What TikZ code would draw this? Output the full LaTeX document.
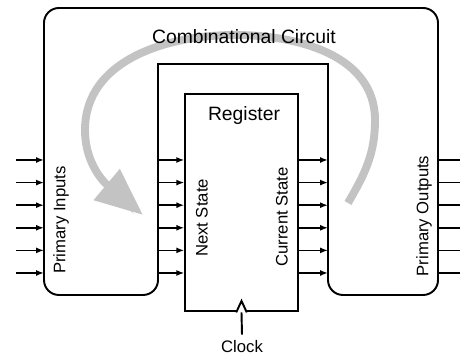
\documentclass[tikz,border=0pt]{standalone}
\usepackage{fontspec}
\setmainfont{Liberation Sans}
\usetikzlibrary{arrows.meta, positioning}
\definecolor{loopgray}{RGB}{195,195,195}

\begin{document}
\begin{tikzpicture}[
  x=0.02cm, y=0.02cm,
  font=\fontsize{9.5}{11}\selectfont,
  outline/.style={draw=black, line width=1.1pt},
  regbox/.style={rectangle, draw=black, line width=1.1pt, minimum width=64pt,
    minimum height=124pt, inner sep=0pt},
  wire/.style={line width=0.9pt, -{Latex[length=4.5pt, width=3.4pt]}},
  bare/.style={line width=0.9pt},
  bigtext/.style={font=\fontsize{11}{13}\selectfont},
  side/.style={rotate=90},
  loop/.style={draw=loopgray, line width=4.5pt, -{Triangle[length=27pt, width=22pt]}},
]
\useasboundingbox (0,0) rectangle (460,357);

% === Feedback loop (drawn first, sits behind the text) ===
\coordinate (loopstart) at (348,154);
\coordinate (looptip) at (143,142);
\draw[loop] (loopstart) to[out=60,in=-90] (375,237) to[out=90,in=0] (235,322)
  to[out=180,in=90] (85,227) to[out=-90,in=140] (looptip);

% === Combinational circuit outline ===
\coordinate (ol) at (44,62);   % outer left
\coordinate (il) at (158,62);  % inner left
\coordinate (ir) at (328,62);  % inner right
\coordinate (or) at (438,62);  % outer right
\draw[outline] (328,293) [rounded corners=8.5pt] -- (ir) -- (or) -- (438,349)
  -- (44,349) -- (ol) -- (il) [sharp corners] -- (158,293) -- cycle;
\node[bigtext] (comb) at (244,320) {Combinational Circuit};

% === Register ===
\node[regbox] (reg) at (241.5,154.5) {};
\node[bigtext] (regname) at (244,241) {Register};
\draw[outline, fill=white] ([xshift=-3pt]reg.south) -- ([yshift=6.5pt]reg.south)
  -- ([xshift=3pt]reg.south);
\node (clocklbl) at (242,10) {Clock};
\draw[outline] (clocklbl.north) -- (reg.south);

% === Signal lines ===
\foreach \i in {0,...,5} {
  \pgfmathsetmacro{\yy}{197-22.6*\i}
  \coordinate (pi\i) at (16,\yy);
  \coordinate (po\i) at (460,\yy);
  \draw[wire] (pi\i) -- (pi\i -| ol);
  \draw[wire] (pi\i -| il) -- (pi\i -| reg.west);
  \draw[wire] (pi\i -| reg.east) -- (pi\i -| ir);
  \draw[bare] (po\i -| or) -- (po\i);
}

% === Side labels ===
\node[side] (pinputs) at (61,137) {Primary Inputs};
\node[side] (nstate) at (202,139) {Next State};
\node[side] (cstate) at (282,140) {Current State};
\node[side] (poutputs) at (424,141) {Primary Outputs};

\end{tikzpicture}
\end{document}
